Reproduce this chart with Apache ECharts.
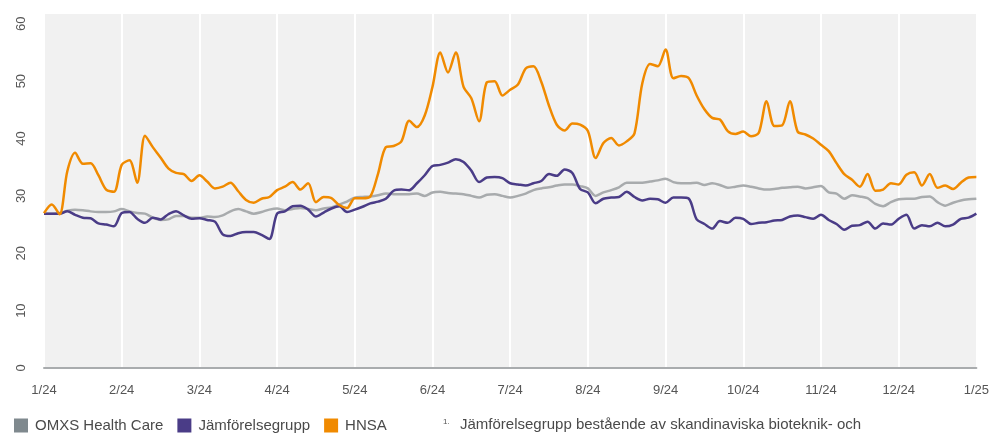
<!DOCTYPE html>
<html>
<head>
<meta charset="utf-8">
<script src="https://cdn.jsdelivr.net/npm/echarts@6/dist/echarts.min.js"></script>
<style>
  html, body { margin: 0; padding: 0; background: #fff; }
  #chart { width: 992px; height: 433px; }
</style>
</head>
<body>
<div id="chart"></div>
<script>
// month tick labels, 10 samples per month
const monthLabels = ['1/24', '2/24', '3/24', '4/24', '5/24', '6/24', '7/24', '8/24', '9/24', '10/24', '11/24', '12/24', '1/25'];
const perMonth = 10;

const omxs = [
  26.9, 26.9, 27.0, 27.4, 27.6, 27.5, 27.3, 27.2, 27.2, 27.3,
  27.7, 27.3, 27.0, 26.9, 26.2, 25.8, 25.9, 26.5, 26.5, 26.2,
  26.2, 26.4, 26.3, 26.6, 27.3, 27.7, 27.3, 26.9, 27.2, 27.6,
  27.8, 27.5, 27.7, 27.9, 27.7, 27.5, 27.8, 28.0, 28.5, 29.0,
  29.7, 29.8, 29.9, 30.1, 30.4, 30.3, 30.3, 30.3, 30.4, 30.0,
  30.6, 30.7, 30.5, 30.4, 30.3, 30.0, 29.7, 30.2, 30.3, 30.0,
  29.7, 30.0, 30.4, 31.0, 31.3, 31.5, 31.8, 32.0, 32.0, 31.7,
  31.3, 30.0, 30.6, 31.0, 31.5, 32.3, 32.3, 32.3, 32.5, 32.7,
  33.0, 32.4, 32.2, 32.2, 32.3, 31.9, 32.2, 31.9, 31.4, 31.6,
  31.8, 31.6, 31.3, 31.1, 31.2, 31.4, 31.5, 31.6, 31.3, 31.5,
  31.7, 30.6, 30.4, 29.5, 30.1, 29.9, 29.6, 28.6, 28.2, 28.9,
  29.4, 29.5, 29.5, 29.8, 29.9, 28.9, 28.3, 28.8, 29.2, 29.4,
  29.5
];

const peers = [
  26.9, 26.9, 26.9, 27.3, 26.7, 26.2, 26.1, 25.2, 25.0, 24.7,
  27.0, 27.2, 26.0, 25.3, 26.2, 25.9, 26.8, 27.3, 26.6, 26.0,
  26.1, 25.8, 25.5, 23.3, 23.0, 23.5, 23.7, 23.7, 23.2, 22.5,
  26.9, 27.3, 28.2, 28.3, 27.6, 26.4, 27.1, 27.8, 28.2, 27.2,
  27.6, 28.1, 28.7, 29.0, 29.5, 30.9, 31.1, 31.0, 32.2, 33.6,
  35.2, 35.4, 35.8, 36.4, 35.9, 34.4, 32.4, 33.2, 33.3, 33.1,
  32.2, 32.0, 31.8, 32.2, 32.6, 33.8, 33.5, 34.6, 34.0, 31.2,
  30.6, 28.7, 29.5, 29.7, 29.8, 30.7, 29.8, 29.2, 29.5, 29.4,
  28.8, 29.7, 29.7, 29.5, 25.9, 25.1, 24.3, 25.6, 25.3, 26.2,
  26.0, 25.1, 25.3, 25.4, 25.7, 25.8, 26.4, 26.6, 26.3, 26.0,
  26.7, 25.8, 25.1, 24.1, 24.8, 24.9, 25.5, 24.3, 25.2, 25.0,
  26.0, 26.7, 24.3, 24.9, 24.7, 25.3, 24.7, 25.0, 26.0, 26.2,
  26.9
];

const hnsa = [
  27.0, 28.5, 26.8, 34.3, 37.5, 35.6, 35.7, 33.6, 31.1, 30.7,
  35.4, 36.2, 32.3, 40.5, 38.5, 36.7, 34.8, 34.0, 33.8, 32.6,
  33.6, 32.5, 31.3, 31.6, 32.3, 30.8, 29.3, 28.8, 29.5, 29.8,
  31.0, 31.6, 32.4, 31.1, 32.2, 28.9, 29.8, 29.6, 28.4, 27.9,
  29.6, 29.6, 29.9, 33.9, 38.5, 38.7, 39.5, 43.1, 42.0, 44.0,
  49.0, 55.0, 51.5, 55.0, 49.0, 47.0, 43.0, 49.8, 50.0, 47.5,
  48.5, 49.4, 52.2, 52.6, 49.9, 45.7, 42.4, 41.4, 42.6, 42.4,
  41.3, 36.6, 39.2, 40.1, 38.8, 39.5, 40.9, 49.6, 53.0, 52.6,
  55.5, 50.5, 50.9, 50.5, 47.5, 45.1, 43.6, 43.3, 41.3, 40.8,
  41.2, 40.4, 41.0, 46.5, 42.2, 42.3, 46.5, 41.2, 40.7, 40.0,
  38.9, 37.8, 35.7, 33.8, 32.8, 31.6, 33.8, 30.9, 31.1, 32.2,
  32.0, 33.7, 34.1, 31.8, 33.8, 31.4, 31.8, 31.2, 32.3, 33.2,
  33.3
];

const categories = omxs.map((v, i) => i % perMonth === 0 ? monthLabels[i / perMonth] : '');
const isMonth = (idx) => idx % perMonth === 0;

const chart = echarts.init(document.getElementById('chart'), null, { renderer: 'canvas' });
const font = '"Liberation Sans", Arial, sans-serif';

const option = {
  animation: false,
  textStyle: { fontFamily: font },
  grid: {
    left: 44, right: 14, top: 14, bottom: 65,
    show: true, backgroundColor: '#f1f1f1', borderWidth: 0
  },
  legend: {
    left: 9, top: 413,
    icon: 'rect', itemWidth: 14, itemHeight: 14, itemGap: 14,
    textStyle: { fontSize: 15, color: '#4a4a4a', fontFamily: font, padding: [0, 0, 0, 2] },
    data: [
      { name: 'OMXS Health Care', itemStyle: { color: '#7f898e' } },
      { name: 'Jämförelsegrupp', itemStyle: { color: '#4a3c87' } },
      { name: 'HNSA', itemStyle: { color: '#f08a00' } }
    ]
  },
  xAxis: {
    type: 'category',
    boundaryGap: false,
    data: categories,
    axisLine: { lineStyle: { color: '#a9acae', width: 2 } },
    axisTick: { show: false },
    axisLabel: { interval: 0, color: '#555', fontSize: 13, margin: 16, fontFamily: font },
    splitLine: { show: true, interval: (idx) => isMonth(idx), lineStyle: { color: '#ffffff', width: 2 } }
  },
  yAxis: {
    type: 'value',
    min: 0, max: 61.7, interval: 10,
    axisLine: { show: false },
    axisTick: { show: false },
    splitLine: { show: false },
    axisLabel: { rotate: 90, color: '#555', fontSize: 13, margin: 16, showMaxLabel: false, fontFamily: font }
  },
  graphic: [
    { type: 'text', left: 443, top: 418, style: { text: '1.', fontSize: 8, fill: '#555', fontFamily: font } },
    { type: 'text', left: 460, top: 417, style: { text: 'Jämförelsegrupp bestående av skandinaviska bioteknik- och', fontSize: 15, fill: '#4a4a4a', fontFamily: font } }
  ],
  series: [
    { name: 'OMXS Health Care', type: 'line', data: omxs, showSymbol: false, smooth: 0.3,
      lineStyle: { color: '#a8abad', width: 2.5 }, itemStyle: { color: '#a8abad' } },
    { name: 'Jämförelsegrupp', type: 'line', data: peers, showSymbol: false, smooth: 0.3,
      lineStyle: { color: '#4a3c87', width: 2.5 }, itemStyle: { color: '#4a3c87' } },
    { name: 'HNSA', type: 'line', data: hnsa, showSymbol: false, smooth: 0.3,
      lineStyle: { color: '#f08a00', width: 2.5 }, itemStyle: { color: '#f08a00' } }
  ]
};

chart.setOption(option);
</script>
</body>
</html>
